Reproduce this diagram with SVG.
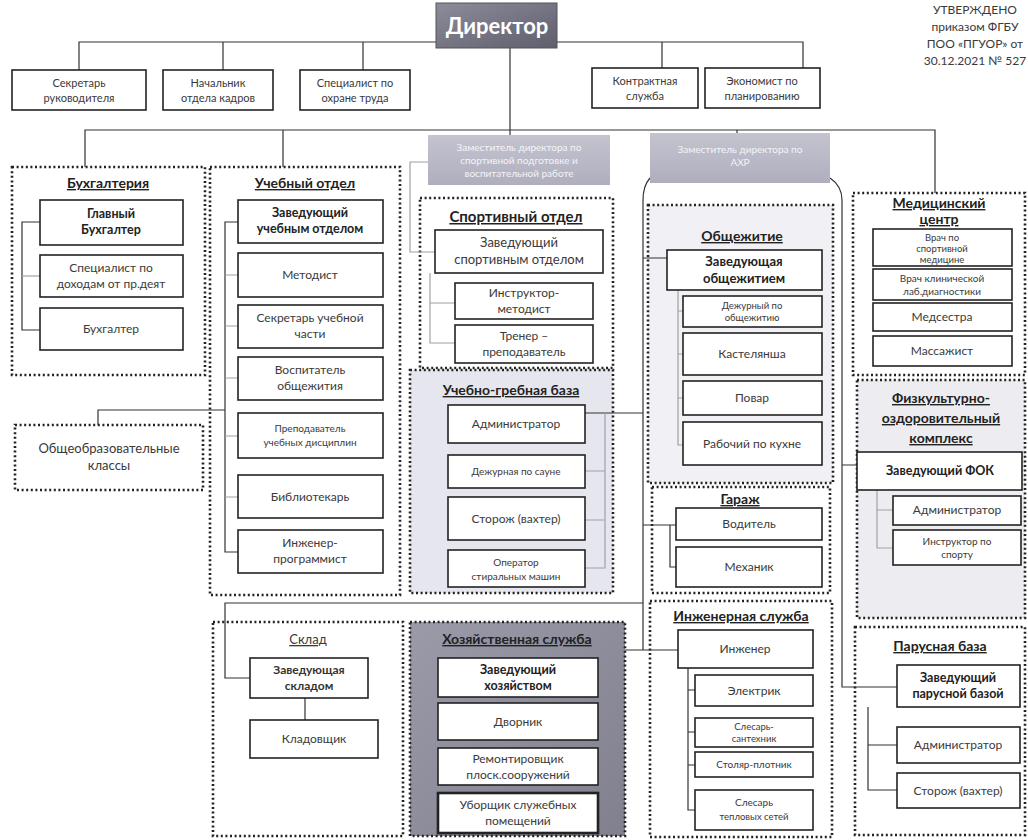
<svg xmlns="http://www.w3.org/2000/svg" width="1028" height="840" viewBox="0 0 1028 840">
<defs>
<linearGradient id="gDir" x1="0" y1="0" x2="1" y2="1"><stop offset="0" stop-color="#8c8c9a"/><stop offset="1" stop-color="#5e5e6c"/></linearGradient>
<linearGradient id="gDep" x1="0" y1="0" x2="0" y2="1"><stop offset="0" stop-color="#c4c4d0"/><stop offset="1" stop-color="#aeaebe"/></linearGradient>
<linearGradient id="gHoz" x1="0" y1="0" x2="1" y2="1"><stop offset="0" stop-color="#9a9aa8"/><stop offset="1" stop-color="#80808e"/></linearGradient>
<style>
.box{fill:#fff;stroke:#222;stroke-width:1.6}
.dot{fill:none;stroke:#222;stroke-width:2.6;stroke-dasharray:2 2.6}
.t{font-family:Lato,"Open Sans","Noto Sans",sans-serif;font-size:12px;fill:#3a3a3a;text-anchor:middle}
.s{font-size:10px}
.m{font-size:11px}
.xs{font-size:9.5px}
.b{font-weight:bold;fill:#222;font-size:12.5px}
.ttl{font-weight:bold;font-size:14px;fill:#222;text-decoration:underline}
.w{fill:#f4f4f8;font-size:10px}
.ln{fill:none;stroke:#333;stroke-width:1.2}
.lt{fill:none;stroke:#a0a0a8;stroke-width:1.2}
</style>
</defs>
<rect width="1028" height="840" fill="#fff"/>

<!-- containers -->
<g id="buhgalteria"><rect class="dot" x="12" y="167" width="193" height="208"/><text class="t ttl" x="108" y="188">Бухгалтерия</text></g>
<g id="uchebny-otdel"><rect class="dot" x="210" y="167" width="190" height="428"/><text class="t ttl" x="305" y="188">Учебный отдел</text></g>
<g id="obshcheobraz"><rect class="dot" x="15" y="425" width="188" height="65"/><text class="t" style="font-size:13px" x="109" y="453">Общеобразовательные</text><text class="t" style="font-size:13px" x="109" y="470">классы</text></g>
<g id="sport-otdel"><rect class="dot" x="420" y="198" width="193" height="170"/><text class="t ttl" style="font-size:15px" x="516" y="222">Спортивный отдел</text></g>
<g id="ugb"><rect class="dot" x="410" y="370" width="203" height="223" style="fill:#e6e6ee"/><text class="t ttl" x="511" y="395">Учебно-гребная база</text></g>
<g id="obshchezhitie"><rect class="dot" x="648" y="205" width="185" height="278" style="fill:#f1f1f5"/><text class="t ttl" x="742" y="241">Общежитие</text></g>
<g id="garazh"><rect class="dot" x="652" y="487" width="178" height="106"/><text class="t ttl" x="740" y="504">Гараж</text></g>
<g id="inzh-sluzhba"><rect class="dot" x="650" y="601" width="182" height="236"/><text class="t ttl" x="741" y="621">Инженерная служба</text></g>
<g id="med-centr"><rect class="dot" x="853" y="193" width="172" height="182"/><text class="t ttl" x="939" y="208">Медицинский</text><text class="t ttl" x="939" y="224">центр</text></g>
<g id="fok"><rect class="dot" x="857" y="380" width="168" height="238" style="fill:#ededf1"/><text class="t ttl" x="941" y="403">Физкультурно-</text><text class="t ttl" x="941" y="423">оздоровительный</text><text class="t ttl" x="941" y="443">комплекс</text></g>
<g id="parus"><rect class="dot" x="855" y="627" width="170" height="208"/><text class="t ttl" x="940" y="651">Парусная база</text></g>
<g id="sklad"><rect class="dot" x="213" y="622" width="190" height="214"/><text class="t" style="text-decoration:underline;font-size:13px" x="308" y="644">Склад</text></g>
<g id="hoz-sluzhba"><rect class="dot" x="410" y="622" width="215" height="214" style="fill:url(#gHoz)"/><text class="t ttl" x="517" y="644">Хозяйственная служба</text></g>

<!-- connectors -->
<g id="connectors">
<path class="ln" d="M79 70V42H436M223 70V42M363 70V42M557 42H803V68M662 42V68"/>
<path class="ln" d="M510 48V135M85 167V130H935V193M283 130V167M737 130V133"/>
<path class="lt" d="M428 162H410V252H435M430 273V343H455M430 303H455"/>
<path class="ln" d="M40 222H22V330H40"/><path class="lt" d="M22 276H40"/>
<path class="ln" d="M238 222H225V552H238"/><path class="lt" d="M225 275H238M225 326H238M225 378H238M225 436H238M225 497H238"/>
<path class="ln" d="M225 410H98V425"/>
<path class="ln" d="M650 178Q643 186 643 200V650M830 178Q842 186 842 200V687H897M842 465H857"/>
<path class="ln" d="M643 258H667M643 413H585M643 525H676M643 603H225V678H250M625 650H678M305 698V720"/>
<path class="lt" d="M605 413V568H585M605 471H585M605 520H585"/>
<path class="lt" d="M678 290V445H683M678 311H683M678 354H683M678 398H683"/>
<path class="ln" d="M670 525V567H676"/>
<path class="ln" d="M688 668V810H695M688 690H695M688 732H695M688 765H695"/>
<path class="lt" d="M877 490V548H893M877 510H893"/>
<path class="ln" d="M868 707V790H897M868 745H897"/>
</g>

<!-- top level -->
<g id="direktor"><rect x="436" y="3" width="121" height="45" fill="url(#gDir)" stroke="#555" stroke-width="1"/><text class="t" style="font-size:22px;font-weight:bold;fill:#fff" x="497" y="34">Директор</text></g>
<g id="utverzhdeno"><text class="t" style="font-size:12px" x="975" y="14">УТВЕРЖДЕНО</text><text class="t" style="font-size:12px" x="975" y="31">приказом ФГБУ</text><text class="t" style="font-size:12px" x="975" y="48">ПОО «ПГУОР» от</text><text class="t" style="font-size:12px" x="975" y="65">30.12.2021 № 527</text></g>
<g id="sekretar"><rect class="box" x="12" y="70" width="134" height="40"/><text class="t m" x="79" y="87">Секретарь</text><text class="t m" x="79" y="102">руководителя</text></g>
<g id="nach-kadrov"><rect class="box" x="163" y="70" width="110" height="40"/><text class="t m" x="218" y="87">Начальник</text><text class="t m" x="218" y="102">отдела кадров</text></g>
<g id="ohrana-truda"><rect class="box" x="300" y="70" width="110" height="40"/><text class="t m" x="355" y="87">Специалист по</text><text class="t m" x="355" y="102">охране труда</text></g>
<g id="kontrakt"><rect class="box" x="592" y="68" width="106" height="40"/><text class="t m" x="645" y="85">Контрактная</text><text class="t m" x="645" y="100">служба</text></g>
<g id="ekonomist"><rect class="box" x="705" y="68" width="115" height="40"/><text class="t m" x="762" y="85">Экономист по</text><text class="t m" x="762" y="100">планированию</text></g>
<g id="zam-sport"><rect x="428" y="135" width="182" height="50" fill="url(#gDep)"/><text class="t w" x="519" y="151">Заместитель директора по</text><text class="t w" x="519" y="164">спортивной подготовке и</text><text class="t w" x="519" y="177">воспитательной работе</text></g>
<g id="zam-ahr"><rect x="650" y="133" width="180" height="50" fill="url(#gDep)"/><text class="t w" x="740" y="153">Заместитель директора по</text><text class="t w" x="740" y="166">АХР</text></g>

<!-- Бухгалтерия -->
<g id="glav-buh"><rect class="box" x="40" y="200" width="143" height="45"/><text class="t b" x="111" y="218">Главный</text><text class="t b" x="111" y="234">Бухгалтер</text></g>
<g id="spec-dohod"><rect class="box" x="40" y="255" width="143" height="42"/><text class="t" x="111" y="272">Специалист по</text><text class="t" x="111" y="288">доходам от пр.деят</text></g>
<g id="buhgalter"><rect class="box" x="40" y="308" width="143" height="42"/><text class="t" x="111" y="333">Бухгалтер</text></g>

<!-- Учебный отдел -->
<g id="zav-ucheb"><rect class="box" x="238" y="200" width="145" height="43"/><text class="t b" x="310" y="217">Заведующий</text><text class="t b" x="310" y="233">учебным отделом</text></g>
<g id="metodist"><rect class="box" x="238" y="253" width="145" height="44"/><text class="t" x="310" y="279">Методист</text></g>
<g id="sekr-uch"><rect class="box" x="238" y="305" width="145" height="43"/><text class="t" x="310" y="322">Секретарь учебной</text><text class="t" x="310" y="338">части</text></g>
<g id="vospitatel"><rect class="box" x="238" y="357" width="145" height="43"/><text class="t" x="310" y="374">Воспитатель</text><text class="t" x="310" y="390">общежития</text></g>
<g id="prepodavatel"><rect class="box" x="238" y="413" width="145" height="45"/><text class="t s" x="310" y="432">Преподаватель</text><text class="t s" x="310" y="446">учебных дисциплин</text></g>
<g id="bibliotekar"><rect class="box" x="238" y="475" width="145" height="43"/><text class="t" x="310" y="501">Библиотекарь</text></g>
<g id="inzh-prog"><rect class="box" x="238" y="530" width="145" height="43"/><text class="t" x="310" y="547">Инженер-</text><text class="t" x="310" y="563">программист</text></g>

<!-- Спортивный отдел -->
<g id="zav-sport"><rect class="box" x="435" y="230" width="168" height="43"/><text class="t" style="font-size:13px" x="519" y="247">Заведующий</text><text class="t" style="font-size:13px" x="519" y="264">спортивным отделом</text></g>
<g id="instr-metod"><rect class="box" x="455" y="283" width="138" height="36"/><text class="t" x="524" y="297">Инструктор-</text><text class="t" x="524" y="313">методист</text></g>
<g id="trener"><rect class="box" x="455" y="325" width="138" height="38"/><text class="t" x="524" y="340">Тренер –</text><text class="t" x="524" y="356">преподаватель</text></g>

<!-- УГБ -->
<g id="ugb-admin"><rect class="box" x="448" y="405" width="137" height="38"/><text class="t" x="516" y="428">Администратор</text></g>
<g id="ugb-sauna"><rect class="box" x="448" y="455" width="137" height="33"/><text class="t s" x="516" y="475">Дежурная по сауне</text></g>
<g id="ugb-storozh"><rect class="box" x="448" y="497" width="137" height="43"/><text class="t" x="516" y="523">Сторож (вахтер)</text></g>
<g id="ugb-operator"><rect class="box" x="448" y="550" width="137" height="37"/><text class="t s" x="516" y="566">Оператор</text><text class="t s" x="516" y="580">стиральных машин</text></g>

<!-- Общежитие -->
<g id="zav-obshch"><rect class="box" x="667" y="250" width="155" height="40"/><text class="t b" style="font-size:13px" x="744" y="266">Заведующая</text><text class="t b" style="font-size:13px" x="744" y="283">общежитием</text></g>
<g id="dezh-obshch"><rect class="box" x="683" y="296" width="139" height="31"/><text class="t xs" x="752" y="309">Дежурный по</text><text class="t xs" x="752" y="321">общежитию</text></g>
<g id="kastelyansha"><rect class="box" x="683" y="333" width="139" height="42"/><text class="t" x="752" y="358">Кастелянша</text></g>
<g id="povar"><rect class="box" x="683" y="381" width="139" height="34"/><text class="t" x="752" y="402">Повар</text></g>
<g id="rab-kuhni"><rect class="box" x="683" y="422" width="139" height="43"/><text class="t" x="752" y="448">Рабочий по кухне</text></g>

<!-- Гараж -->
<g id="voditel"><rect class="box" x="676" y="508" width="146" height="32"/><text class="t" x="749" y="528">Водитель</text></g>
<g id="mehanik"><rect class="box" x="676" y="547" width="146" height="40"/><text class="t" x="749" y="571">Механик</text></g>

<!-- Инженерная служба -->
<g id="inzhener"><rect class="box" x="678" y="630" width="135" height="38"/><text class="t" x="745" y="653">Инженер</text></g>
<g id="elektrik"><rect class="box" x="695" y="675" width="118" height="31"/><text class="t" x="754" y="695">Электрик</text></g>
<g id="santehnik"><rect class="box" x="695" y="718" width="118" height="29"/><text class="t xs" x="754" y="730">Слесарь-</text><text class="t xs" x="754" y="742">сантехник</text></g>
<g id="stolyar"><rect class="box" x="695" y="752" width="118" height="25"/><text class="t s" x="754" y="768">Столяр-плотник</text></g>
<g id="teplo"><rect class="box" x="695" y="790" width="118" height="40"/><text class="t s" x="754" y="806">Слесарь</text><text class="t xs" x="754" y="820">тепловых сетей</text></g>

<!-- Медицинский центр -->
<g id="vrach-sport"><rect class="box" x="873" y="229" width="139" height="37"/><text class="t xs" x="942" y="241">Врач по</text><text class="t xs" x="942" y="252">спортивной</text><text class="t xs" x="942" y="263">медицине</text></g>
<g id="vrach-lab"><rect class="box" x="873" y="269" width="139" height="31"/><text class="t s" x="942" y="282">Врач клинической</text><text class="t s" x="942" y="295">лаб.диагностики</text></g>
<g id="medsestra"><rect class="box" x="873" y="303" width="139" height="28"/><text class="t" x="942" y="321">Медсестра</text></g>
<g id="massazhist"><rect class="box" x="873" y="336" width="139" height="30"/><text class="t" x="942" y="355">Массажист</text></g>

<!-- ФОК -->
<g id="zav-fok"><rect class="box" x="857" y="452" width="165" height="38"/><text class="t b" x="940" y="475">Заведующий ФОК</text></g>
<g id="fok-admin"><rect class="box" x="893" y="496" width="128" height="29"/><text class="t" x="957" y="514">Администратор</text></g>
<g id="fok-instr"><rect class="box" x="893" y="530" width="128" height="35"/><text class="t s" x="957" y="545">Инструктор по</text><text class="t s" x="957" y="558">спорту</text></g>

<!-- Парусная база -->
<g id="zav-parus"><rect class="box" x="897" y="665" width="123" height="42"/><text class="t b" x="958" y="682">Заведующий</text><text class="t b" x="958" y="698">парусной базой</text></g>
<g id="parus-admin"><rect class="box" x="897" y="727" width="123" height="36"/><text class="t" x="958" y="749">Администратор</text></g>
<g id="parus-storozh"><rect class="box" x="897" y="773" width="123" height="35"/><text class="t" x="958" y="795">Сторож (вахтер)</text></g>

<!-- Склад -->
<g id="zav-sklad"><rect class="box" x="250" y="658" width="118" height="40"/><text class="t" style="font-weight:bold;fill:#333" x="309" y="674">Заведующая</text><text class="t" style="font-weight:bold;fill:#333" x="309" y="690">складом</text></g>
<g id="kladovshchik"><rect class="box" x="250" y="720" width="128" height="38"/><text class="t" x="314" y="743">Кладовщик</text></g>

<!-- Хозяйственная служба -->
<g id="zav-hoz"><rect class="box" x="438" y="658" width="160" height="39"/><text class="t b" x="518" y="674">Заведующий</text><text class="t b" x="518" y="690">хозяйством</text></g>
<g id="dvornik"><rect class="box" x="438" y="703" width="160" height="37"/><text class="t" x="518" y="726">Дворник</text></g>
<g id="remontirovshchik"><rect class="box" x="438" y="748" width="160" height="37"/><text class="t" x="518" y="763">Ремонтировщик</text><text class="t" x="518" y="779">плоск.сооружений</text></g>
<g id="uborshchik"><rect class="box" x="438" y="793" width="160" height="40" style="stroke-width:2.6"/><text class="t" x="518" y="809">Уборщик служебных</text><text class="t" x="518" y="825">помещений</text></g>
</svg>
